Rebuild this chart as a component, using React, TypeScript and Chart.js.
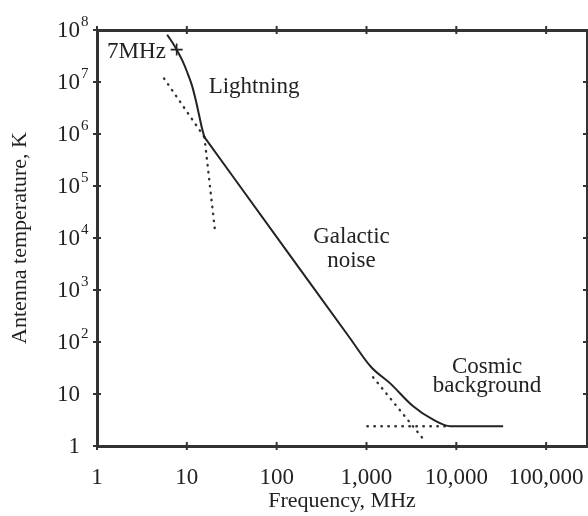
import React, { useEffect, useRef } from 'react';
import { Chart, registerables } from 'chart.js';

Chart.register(...registerables);

// ---- axis ticks ----
const X_TICK_VALUES = [1, 10, 100, 1000, 10000, 100000];
const X_TICK_LABELS = ['1', '10', '100', '1,000', '10,000', '100,000'];
const Y_TICK_VALUES = [1, 10, 1e2, 1e3, 1e4, 1e5, 1e6, 1e7, 1e8];
const Y_TICK_BASES = ['1', '10', '10', '10', '10', '10', '10', '10', '10'];
const Y_TICK_EXPONENTS = ['', '', '2', '3', '4', '5', '6', '7', '8'];
const X_MIN = 1;
const X_MAX = 2.85e5;
const Y_MIN = 1;
const Y_MAX = 1e8;

// ---- series (frequency in MHz, antenna temperature in K) ----
const LIGHTNING_FREQ = [6.04, 6.88, 7.82, 8.9, 10.1, 11.4, 12.6, 13.7, 14.8, 15.7];
const LIGHTNING_TEMP = [8.1e7, 5.8e7, 4.0e7, 2.6e7, 1.54e7, 8.6e6, 4.4e6, 2.3e6, 1.26e6, 8.7e5];

const SKY_FREQ = [15.7, 140, 656, 1125, 1835, 3310, 5530, 8560, 33200];
const SKY_TEMP = [8.7e5, 4700, 118, 33, 16, 5.8, 3.2, 2.4, 2.4];

const GALACTIC_HIGH_FREQ = [5.58, 15.7];
const GALACTIC_HIGH_TEMP = [1.17e7, 8.7e5];

const LIGHTNING_LOW_FREQ = [15.7, 20.5];
const LIGHTNING_LOW_TEMP = [8.7e5, 1.46e4];

const GALACTIC_LOW_FREQ = [1186, 4520];
const GALACTIC_LOW_TEMP = [21, 1.22];

const COSMIC_FREQ = [1023, 8560];
const COSMIC_TEMP = [2.4, 2.4];

const MARKER_FREQ = [7.7];
const MARKER_TEMP = [4.2e7];

// ---- annotation texts anchored in data space ----
const NOTE_TEXTS = ['7MHz', 'Lightning', 'Galactic', 'noise', 'Cosmic', 'background'];
const NOTE_FREQ = [5.84, 17.5, 681, 681, 22000, 22000];
const NOTE_TEMP = [2.9e7, 6.1e6, 8000, 2770, 25.3, 10.9];
const NOTE_ALIGN = ['right', 'left', 'center', 'center', 'center', 'center'];

const FONT = '"Liberation Serif", "Times New Roman", serif';
const TEXT_COLOR = '#222';
const AXIS_COLOR = '#333';
const LINE_COLOR = '#222';

const toPoints = (xs: number[], ys: number[]) => xs.map((x, i) => ({ x, y: ys[i] }));

const decorPlugin = {
  id: 'decor',
  afterDraw(chart: any) {
    const ctx = chart.ctx as CanvasRenderingContext2D;
    const { x, y } = chart.scales;
    const area = chart.chartArea;
    ctx.save();
    // tick marks crossing all four axes
    ctx.strokeStyle = AXIS_COLOR;
    ctx.lineWidth = 2;
    ctx.beginPath();
    X_TICK_VALUES.forEach((v) => {
      const px = x.getPixelForValue(v);
      [area.bottom, area.top].forEach((py: number) => {
        ctx.moveTo(px, py - 4);
        ctx.lineTo(px, py + 4);
      });
    });
    Y_TICK_VALUES.forEach((v) => {
      const py = y.getPixelForValue(v);
      [area.left, area.right].forEach((px: number) => {
        ctx.moveTo(px - 4, py);
        ctx.lineTo(px + 4, py);
      });
    });
    ctx.stroke();

    // y tick labels with superscript exponents
    ctx.fillStyle = TEXT_COLOR;
    ctx.textBaseline = 'alphabetic';
    Y_TICK_VALUES.forEach((v, i) => {
      const py = y.getPixelForValue(v);
      const bx = area.left - 17;
      ctx.font = `23px ${FONT}`;
      ctx.textAlign = 'right';
      ctx.fillText(Y_TICK_BASES[i], bx, py + 7);
      if (Y_TICK_EXPONENTS[i]) {
        ctx.font = `15px ${FONT}`;
        ctx.textAlign = 'left';
        ctx.fillText(Y_TICK_EXPONENTS[i], bx + 1, py - 4);
      }
    });

    // annotations
    ctx.font = `23px ${FONT}`;
    NOTE_TEXTS.forEach((t, i) => {
      ctx.textAlign = NOTE_ALIGN[i] as CanvasTextAlign;
      ctx.fillText(t, x.getPixelForValue(NOTE_FREQ[i]), y.getPixelForValue(NOTE_TEMP[i]));
    });
    ctx.restore();
  },
};

const solid = {
  showLine: true,
  borderColor: LINE_COLOR,
  borderWidth: 2,
  pointRadius: 0,
  pointHoverRadius: 0,
  cubicInterpolationMode: 'monotone' as const,
};

const dotted = {
  showLine: true,
  borderColor: '#333',
  borderWidth: 2.4,
  borderDash: [0.5, 6.5],
  borderCapStyle: 'round' as const,
  pointRadius: 0,
  pointHoverRadius: 0,
};

export default function App() {
  const ref = useRef<HTMLCanvasElement | null>(null);

  useEffect(() => {
    if (!ref.current) return;
    const setTicks = (s: any, vals: number[]) => {
      s.ticks = vals.map((value) => ({ value }));
    };
    const noPad = (s: any) => {
      s.paddingLeft = 0;
      s.paddingRight = 0;
      s.paddingTop = 0;
      s.paddingBottom = 0;
    };
    const chart = new Chart(ref.current, {
      type: 'scatter',
      data: {
        datasets: [
          { label: 'Lightning', data: toPoints(LIGHTNING_FREQ, LIGHTNING_TEMP), ...solid },
          { label: 'Galactic noise / Cosmic background', data: toPoints(SKY_FREQ, SKY_TEMP), ...solid },
          { label: 'Galactic (extension)', data: toPoints(GALACTIC_HIGH_FREQ, GALACTIC_HIGH_TEMP), ...dotted },
          { label: 'Lightning (extension)', data: toPoints(LIGHTNING_LOW_FREQ, LIGHTNING_LOW_TEMP), ...dotted },
          { label: 'Galactic (low)', data: toPoints(GALACTIC_LOW_FREQ, GALACTIC_LOW_TEMP), ...dotted },
          { label: 'Cosmic', data: toPoints(COSMIC_FREQ, COSMIC_TEMP), ...dotted },
          {
            label: '7MHz',
            data: toPoints(MARKER_FREQ, MARKER_TEMP),
            showLine: false,
            pointStyle: 'cross',
            pointRadius: 6,
            borderWidth: 1.6,
            borderColor: LINE_COLOR,
            pointHoverRadius: 6,
          },
        ],
      },
      options: {
        animation: false,
        responsive: true,
        maintainAspectRatio: false,
        layout: { padding: 0, autoPadding: false },
        events: [],
        plugins: { legend: { display: false }, tooltip: { enabled: false }, title: { display: false } },
        scales: {
          x: {
            type: 'logarithmic',
            position: 'bottom',
            min: X_MIN,
            max: X_MAX,
            afterBuildTicks: (s: any) => setTicks(s, X_TICK_VALUES),
            afterFit: (s: any) => {
              s.height = 70;
              noPad(s);
            },
            grid: { display: false },
            border: { display: true, color: AXIS_COLOR, width: 3 },
            ticks: {
              autoSkip: false,
              maxRotation: 0,
              padding: 10,
              color: TEXT_COLOR,
              font: { family: FONT, size: 23 },
              callback: (_v: any, i: number) => X_TICK_LABELS[i],
            },
            title: {
              display: true,
              text: 'Frequency, MHz',
              color: TEXT_COLOR,
              font: { family: FONT, size: 22 },
              padding: { top: 0, bottom: 2 },
            },
          },
          x2: {
            type: 'logarithmic',
            position: 'top',
            min: X_MIN,
            max: X_MAX,
            afterBuildTicks: (s: any) => setTicks(s, X_TICK_VALUES),
            afterFit: (s: any) => {
              s.height = 30;
              noPad(s);
            },
            grid: { display: false },
            border: { display: true, color: AXIS_COLOR, width: 3 },
            ticks: { display: false },
          },
          y: {
            type: 'logarithmic',
            position: 'left',
            min: Y_MIN,
            max: Y_MAX,
            afterBuildTicks: (s: any) => setTicks(s, Y_TICK_VALUES),
            afterFit: (s: any) => {
              s.width = 97;
              noPad(s);
            },
            grid: { display: false },
            border: { display: true, color: AXIS_COLOR, width: 3 },
            ticks: { display: false },
            title: {
              display: true,
              text: 'Antenna temperature, K',
              color: TEXT_COLOR,
              font: { family: FONT, size: 22 },
              padding: { top: 7, bottom: 0 },
            },
          },
          y2: {
            type: 'logarithmic',
            position: 'right',
            min: Y_MIN,
            max: Y_MAX,
            afterBuildTicks: (s: any) => setTicks(s, Y_TICK_VALUES),
            afterFit: (s: any) => {
              s.width = 1;
              noPad(s);
            },
            grid: { display: false },
            border: { display: true, color: AXIS_COLOR, width: 3 },
            ticks: { display: false },
          },
        },
      } as any,
      plugins: [decorPlugin],
    });
    return () => chart.destroy();
  }, []);

  return (
    <div style={{ position: 'absolute', left: 0, top: 0, width: 588, height: 516, background: '#fff' }}>
      <canvas ref={ref} />
    </div>
  );
}
